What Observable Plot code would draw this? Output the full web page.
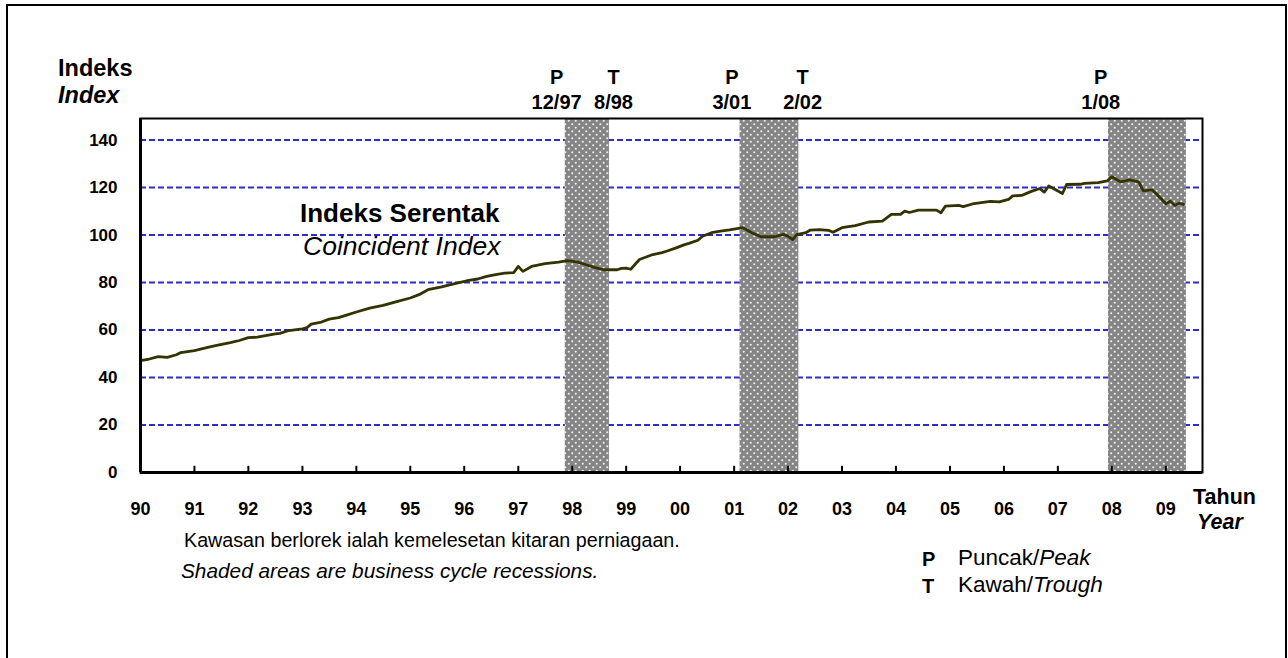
<!DOCTYPE html>
<html>
<head>
<meta charset="utf-8">
<script src="https://cdn.jsdelivr.net/npm/d3@7"></script>
<script src="https://cdn.jsdelivr.net/npm/@observablehq/plot@0.6"></script>
<style>
  html, body { margin: 0; padding: 0; background: #fff; }
  #wrap { position: relative; width: 1288px; height: 658px; overflow: hidden; font-family: "Liberation Sans", Arial, sans-serif; }
  #border { position: absolute; left: 6px; top: 4px; width: 1281px; height: 720px; box-sizing: border-box; border: 2px solid #000; }
  .t { position: absolute; white-space: nowrap; line-height: 1; color: #000; }
  #chart { position: absolute; left: 0; top: 0; }
</style>
</head>
<body>
<div id="wrap">
  <div id="border"></div>
  <div id="chart"></div>
</div>
<script>
// ---- data ----
const months = [
  "1990-01","1990-03","1990-05","1990-07","1990-09","1990-10",
  "1991-01","1991-04","1991-06","1991-09","1991-11",
  "1992-01","1992-03","1992-07","1992-08","1992-10",
  "1993-01","1993-02","1993-03","1993-05","1993-07","1993-09","1993-11",
  "1994-01","1994-04","1994-07","1994-10",
  "1995-01","1995-03","1995-05","1995-08","1995-10",
  "1996-02","1996-04","1996-06","1996-08","1996-10","1996-12",
  "1997-01","1997-02","1997-04","1997-07","1997-10","1997-12",
  "1998-02","1998-04","1998-06","1998-08","1998-11","1998-12",
  "1999-01","1999-02","1999-04","1999-07","1999-09","1999-10","1999-12",
  "2000-02","2000-03","2000-05","2000-06","2000-08","2000-10","2000-12",
  "2001-03","2001-05","2001-07","2001-10","2001-12",
  "2002-01","2002-02","2002-03","2002-05","2002-06","2002-08","2002-10","2002-11",
  "2003-01","2003-04","2003-07","2003-10","2003-12",
  "2004-02","2004-03","2004-04","2004-06","2004-10","2004-11","2004-12",
  "2005-03","2005-04","2005-06","2005-08","2005-10","2005-12",
  "2006-02","2006-03","2006-05","2006-07","2006-09","2006-10","2006-11",
  "2007-02","2007-03","2007-06","2007-07","2007-10","2007-12",
  "2008-01","2008-03","2008-05","2008-07","2008-08","2008-10","2008-11",
  "2009-01","2009-02","2009-03","2009-04","2009-05"
];
const coincidentIndex = [
  47.1,47.8,48.8,48.5,49.6,50.5,
  51.3,52.7,53.5,54.7,55.6,
  56.8,57.0,58.4,58.6,59.8,
  60.5,61.0,62.5,63.2,64.6,65.2,66.4,
  67.6,69.2,70.4,72.0,
  73.5,74.9,77.0,78.2,79.1,
  80.9,81.5,82.6,83.3,84.0,84.2,
  86.8,84.7,86.8,88.0,88.6,89.2,
  88.7,87.6,86.4,85.4,85.4,86.0,
  86.1,85.6,89.7,91.8,92.6,93.2,94.5,
  96.0,96.5,97.8,99.5,101.0,101.7,102.2,
  103.1,101.0,99.3,99.3,100.3,
  99.5,98.1,100.2,101.0,102.1,102.3,102.0,101.2,
  103.1,104.0,105.5,105.9,108.7,
  108.7,110.1,109.5,110.5,110.5,109.4,112.2,
  112.5,112.0,113.1,113.7,114.2,114.0,
  115.0,116.5,116.7,118.3,119.6,118.1,120.7,
  117.5,121.3,121.4,121.8,122.1,122.8,
  124.6,122.4,123.2,122.4,118.6,119.0,117.2,
  113.2,114.3,112.5,113.4,112.9
];
const recessionStarts = ["1997-11-15","2001-02-10","2007-12-10"];
const recessionEnds   = ["1998-09-10","2002-03-15","2009-05-20"];
const turnDates  = ["1997-12-01","1998-08-01","2001-03-01","2002-02-01","2008-01-01"];
const turnTypes  = ["P","T","P","T","P"];
const turnLabels = ["12/97","8/98","3/01","2/02","1/08"];
const yTicks = [0,20,40,60,80,100,120,140];
const gridValues = [20,40,60,80,100,120,140];

// ---- build ----
const data = months.map((m, i) => ({date: new Date(m + "-01"), value: coincidentIndex[i]}));
const recessions = recessionStarts.map((s, i) => ({start: new Date(s), end: new Date(recessionEnds[i])}));
const turns = turnDates.map((d, i) => ({date: new Date(d), type: turnTypes[i], label: turnLabels[i]}));
const yearTicks = d3.utcYears(new Date("1990-01-01"), new Date("2009-02-01"));

const font = '"Liberation Sans", Arial, sans-serif';

const chart = Plot.plot({
  width: 1288,
  height: 658,
  marginLeft: 140,
  marginRight: 86,
  marginTop: 118,
  marginBottom: 186,
  style: {fontFamily: font, background: "transparent", overflow: "visible"},
  x: {type: "utc", domain: [new Date("1990-01-01"), new Date("2009-09-06")]},
  y: {domain: [0, 149.1]},
  marks: [
    Plot.ruleY(gridValues, {stroke: "#2d2dcc", strokeWidth: 2, strokeDasharray: "6,3"}),
    Plot.rect(recessions, {x1: "start", x2: "end", fill: "url(#dots)"}),
    Plot.line(data, {x: "date", y: "value", stroke: "#333300", strokeWidth: 2.8, strokeLinejoin: "round"}),
    Plot.frame({stroke: "#000", strokeWidth: 2}),
    Plot.ruleY([0], {stroke: "#000", strokeWidth: 3}),
    Plot.ruleX([new Date("1990-01-01")], {stroke: "#000", strokeWidth: 3}),
    Plot.ruleX(yearTicks, {y1: 0, y2: 2.6, stroke: "#000", strokeWidth: 2}),
    Plot.axisY({ticks: yTicks, tickSize: 0, tickPadding: 23, fontSize: 17, fontWeight: "bold", label: null}),
    Plot.axisX({ticks: yearTicks, tickSize: 0, tickPadding: 30, fontSize: 18, fontWeight: "bold", tickFormat: d3.utcFormat("%y"), label: null}),
    Plot.text(turns.filter(d => d.type === "P"), {x: "date", text: d => d.type + "\n" + d.label, frameAnchor: "top", lineAnchor: "bottom", dy: -10, dx: -11, fontSize: 20, fontWeight: "bold", lineHeight: 1.25}),
    Plot.text(turns.filter(d => d.type === "T"), {x: "date", text: d => d.type + "\n" + d.label, frameAnchor: "top", lineAnchor: "bottom", dy: -10, dx: 10, fontSize: 20, fontWeight: "bold", lineHeight: 1.25})
  ]
});

// dotted fill pattern for the recession shading
const defs = d3.select(chart).insert("defs", ":first-child");
const pat = defs.append("pattern").attr("id", "dots").attr("patternUnits", "userSpaceOnUse")
  .attr("width", 7).attr("height", 7);
pat.append("rect").attr("width", 7).attr("height", 7).attr("fill", "#858585");
pat.append("circle").attr("cx", 1.75).attr("cy", 1.75).attr("r", 1.05).attr("fill", "#f0f0f0");
pat.append("circle").attr("cx", 5.25).attr("cy", 5.25).attr("r", 1.05).attr("fill", "#f0f0f0");

document.getElementById("chart").appendChild(chart);

// ---- static texts ----
const wrap = document.getElementById("wrap");
function place(html, x, baseline, size, style = "", anchor = "start") {
  const el = document.createElement("div");
  el.className = "t";
  el.innerHTML = html;
  el.style.fontSize = size + "px";
  el.style.left = x + "px";
  el.style.top = (baseline - 0.8465 * size) + "px";
  if (anchor === "middle") el.style.transform = "translateX(-50%)";
  el.style.cssText += style;
  wrap.appendChild(el);
}
place("Indeks", 58, 77, 23.5, "font-weight:bold;");
place("Index", 58, 104, 23.5, "font-weight:bold;font-style:italic;");
place("Indeks Serentak", 300, 222, 26, "font-weight:bold;");
place("Coincident Index", 303, 255, 26.5, "font-style:italic;");
place("Tahun", 1193, 505, 21.5, "font-weight:bold;");
place("Year", 1197, 530, 21.5, "font-weight:bold;font-style:italic;");
place("Kawasan berlorek ialah kemelesetan kitaran perniagaan.", 184, 548, 19.7, "");
place("Shaded areas are business cycle recessions.", 181, 579, 20.8, "font-style:italic;");
place("P", 922, 566, 20, "font-weight:bold;");
place("Puncak/<i>Peak</i>", 958, 566, 22.5, "");
place("T", 922, 593, 20, "font-weight:bold;");
place("Kawah/<i>Trough</i>", 958, 593, 22.5, "");
</script>
</body>
</html>
